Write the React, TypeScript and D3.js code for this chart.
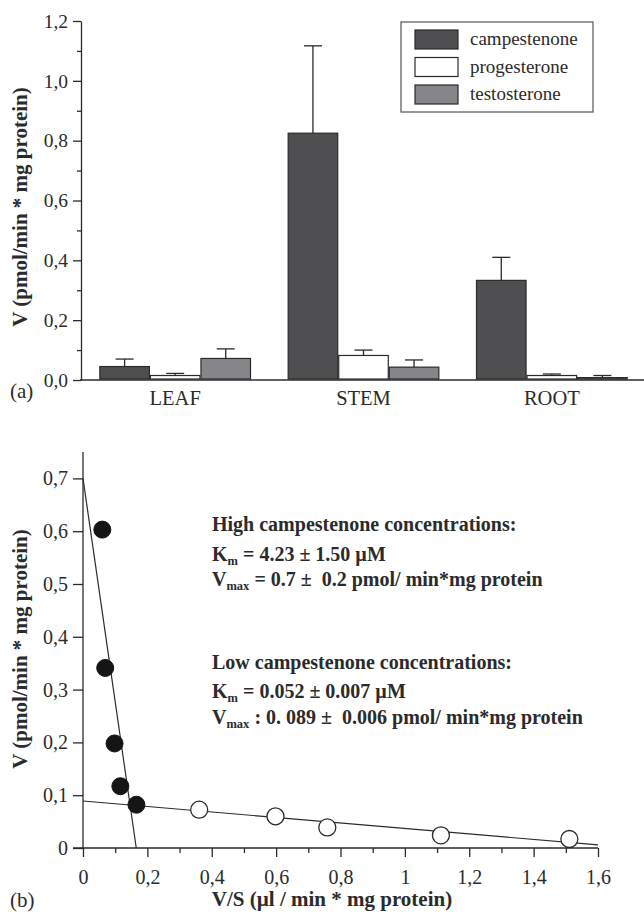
import { useEffect, useRef } from "react";
import * as d3 from "d3";

// panel (a): enzyme activity per organ
const organs = ["LEAF", "STEM", "ROOT"];
const substrates = ["campestenone", "progesterone", "testosterone"];
const campestenone = [0.045, 0.825, 0.333];
const progesterone = [0.015, 0.082, 0.015];
const testosterone = [0.072, 0.043, 0.008];
const campestenoneErr = [0.025, 0.292, 0.077];
const progesteroneErr = [0.007, 0.018, 0.005];
const testosteroneErr = [0.032, 0.024, 0.007];
const barTicks = [0, 0.2, 0.4, 0.6, 0.8, 1.0, 1.2];

// panel (b): Eadie-Hofstee plot
const highVS = [0.06, 0.069, 0.098, 0.116, 0.166];
const highV = [0.603, 0.341, 0.198, 0.117, 0.082];
const lowVS = [0.361, 0.598, 0.759, 1.112, 1.511];
const lowV = [0.0725, 0.06, 0.039, 0.024, 0.017];
const highFit = { vmax: 0.7, km: 4.23 };
const lowFit = { vmax: 0.089, km: 0.052 };
const plotYTicks = [0, 0.1, 0.2, 0.3, 0.4, 0.5, 0.6, 0.7];
const plotXTicks = [0, 0.2, 0.4, 0.6, 0.8, 1, 1.2, 1.4, 1.6];

const notes = [
  [["High campestenone concentrations:", ""]],
  [["K", "m"], [" = 4.23 ± 1.50 µM", ""]],
  [["V", "max"], [" = 0.7 ±  0.2 pmol/ min*mg protein", ""]],
  [["Low campestenone concentrations:", ""]],
  [["K", "m"], [" = 0.052 ± 0.007 µM", ""]],
  [["V", "max"], [" : 0. 089 ±  0.006 pmol/ min*mg protein", ""]],
];

const serif = "Liberation Serif, Times New Roman, serif";
const ink = "#2b2b2b";

export default function App() {
  const svgRef = useRef<SVGSVGElement>(null);

  useEffect(() => {
    if (!svgRef.current) return;
    const svg = d3.select(svgRef.current);
    svg.selectAll("*").remove();

    const comma = (d: number, digits?: number) =>
      (digits !== undefined ? d.toFixed(digits) : String(+d.toFixed(3))).replace(".", ",");

    // ---------- panel (a) ----------
    const x0 = d3.scaleBand().domain(organs).range([81, 646]).paddingInner(0.2).paddingOuter(0.1);
    const x1 = d3.scaleBand().domain(substrates).range([0, x0.bandwidth()]).paddingInner(0.02);
    const yA = d3.scaleLinear().domain([0, 1.2]).range([380, 21]);
    const color = d3.scaleOrdinal<string>().domain(substrates).range(["#4f4f52", "#ffffff", "#86868a"]);
    const values = [campestenone, progesterone, testosterone];
    const errs = [campestenoneErr, progesteroneErr, testosteroneErr];

    const gA = svg.append("g");

    const minorA = gA.append("g").attr("transform", "translate(81,0)")
      .call(d3.axisLeft(yA).tickValues([0.1, 0.3, 0.5, 0.7, 0.9, 1.1]).tickSize(4).tickFormat(() => ""));
    minorA.select(".domain").remove();
    const axA = gA.append("g").attr("transform", "translate(81,0)")
      .call(d3.axisLeft(yA).tickValues(barTicks).tickSize(8).tickSizeOuter(0).tickPadding(5)
        .tickFormat((d) => comma(+d, 1)));
    [minorA, axA].forEach((a) => {
      a.selectAll("line").attr("stroke", ink).attr("stroke-width", 1.3);
      a.selectAll("path").attr("stroke", ink).attr("stroke-width", 1.3);
      a.selectAll("text").style("font-family", serif).style("font-size", "19.5px").attr("fill", ink);
    });

    gA.append("line").attr("x1", 80).attr("x2", 644).attr("y1", yA(0)).attr("y2", yA(0))
      .attr("stroke", ink).attr("stroke-width", 1.5);

    substrates.forEach((s, si) => {
      organs.forEach((o, oi) => {
        const bx = (x0(o) ?? 0) + (x1(s) ?? 0);
        const bw = x1.bandwidth();
        const v = values[si][oi];
        const e = errs[si][oi];
        const cx = bx + bw / 2;
        gA.append("line").attr("x1", cx).attr("x2", cx).attr("y1", yA(v)).attr("y2", yA(v + e))
          .attr("stroke", ink).attr("stroke-width", 1.3);
        gA.append("line").attr("x1", cx - 9).attr("x2", cx + 9).attr("y1", yA(v + e)).attr("y2", yA(v + e))
          .attr("stroke", ink).attr("stroke-width", 1.3);
        gA.append("rect").attr("x", bx).attr("y", yA(v)).attr("width", bw).attr("height", yA(0) - yA(v) - 1)
          .attr("fill", color(s)).attr("stroke", ink).attr("stroke-width", 1.2);
      });
    });

    organs.forEach((o) => {
      gA.append("text").attr("x", (x0(o) ?? 0) + x0.bandwidth() / 2).attr("y", 405)
        .attr("text-anchor", "middle").style("font-family", serif).style("font-size", "20.5px")
        .attr("fill", ink).text(o);
    });

    gA.append("text").attr("transform", "translate(27,207) rotate(-90)").attr("text-anchor", "middle")
      .style("font-family", serif).style("font-weight", "bold").style("font-size", "21px").attr("fill", ink)
      .text("V (pmol/min * mg protein)");
    gA.append("text").attr("x", 10).attr("y", 398).style("font-family", serif).style("font-size", "21px")
      .attr("fill", ink).text("(a)");

    // legend
    const leg = gA.append("g");
    leg.append("rect").attr("x", 401).attr("y", 22).attr("width", 192).attr("height", 90)
      .attr("fill", "#fff").attr("stroke", "#555").attr("stroke-width", 1.2);
    substrates.forEach((s, i) => {
      leg.append("rect").attr("x", 415).attr("y", 30 + i * 27.5).attr("width", 43).attr("height", 19)
        .attr("fill", color(s)).attr("stroke", ink).attr("stroke-width", 1.2);
      leg.append("text").attr("x", 470).attr("y", 45 + i * 27.5).style("font-family", serif)
        .style("font-size", "19px").attr("fill", ink).text(s);
    });

    // ---------- panel (b) ----------
    const xB = d3.scaleLinear().domain([0, 1.6]).range([83, 598]);
    const yB = d3.scaleLinear().domain([0, 0.75]).range([848, 452]);
    const gB = svg.append("g");

    const minorB = gB.append("g").attr("transform", "translate(0,848)")
      .call(d3.axisBottom(xB).tickValues(d3.range(1, 16, 2).map((k) => k / 10)).tickSize(5).tickFormat(() => ""));
    minorB.select(".domain").remove();
    const axBx = gB.append("g").attr("transform", "translate(0,848)")
      .call(d3.axisBottom(xB).tickValues(plotXTicks).tickSize(9).tickSizeOuter(0).tickPadding(13)
        .tickFormat((d) => comma(+d)));
    const axBy = gB.append("g").attr("transform", "translate(83,0)")
      .call(d3.axisLeft(yB).tickValues(plotYTicks).tickSize(10).tickSizeOuter(0).tickPadding(5)
        .tickFormat((d) => comma(+d)));
    [minorB, axBx, axBy].forEach((a) => {
      a.selectAll("line").attr("stroke", ink).attr("stroke-width", 1.3);
      a.selectAll("path").attr("stroke", ink).attr("stroke-width", 1.3);
      a.selectAll("text").style("font-family", serif).style("font-size", "20px").attr("fill", ink);
    });
    axBy.select(".domain").attr("d", `M0,${yB(0.75)}V${yB(0)}`);
    axBx.select(".domain").attr("d", `M73,0H${xB(1.6)}`);

    const line = d3.line<[number, number]>().x((d) => xB(d[0])).y((d) => yB(d[1]));
    const highEnd = highFit.vmax / highFit.km;
    gB.append("path").attr("d", line([[0, highFit.vmax], [highEnd, 0]]))
      .attr("fill", "none").attr("stroke", ink).attr("stroke-width", 1.2);
    gB.append("path").attr("d", line([[0, lowFit.vmax], [1.6, lowFit.vmax - lowFit.km * 1.6]]))
      .attr("fill", "none").attr("stroke", ink).attr("stroke-width", 1.2);

    lowVS.forEach((vs, i) => {
      gB.append("circle").attr("cx", xB(vs)).attr("cy", yB(lowV[i])).attr("r", 8.5)
        .attr("fill", "#fff").attr("stroke", ink).attr("stroke-width", 1.3);
    });
    highVS.forEach((vs, i) => {
      gB.append("circle").attr("cx", xB(vs)).attr("cy", yB(highV[i])).attr("r", 8.5)
        .attr("fill", "#151515").attr("stroke", "#151515").attr("stroke-width", 1);
    });

    const noteY = [535, 560.5, 586, 673, 698, 723.5];
    notes.forEach((ln, i) => {
      const t = gB.append("text").attr("x", 212).attr("y", noteY[i]).style("font-family", serif)
        .style("font-weight", "bold").style("font-size", "20px").attr("fill", ink)
        .style("white-space", "pre");
      ln.forEach(([main, sub]) => {
        if (sub) {
          t.append("tspan").text(main);
          t.append("tspan").style("font-size", "12.5px").attr("dy", 4).text(sub);
        } else {
          t.append("tspan").attr("dy", t.selectAll("tspan").size() ? -4 : 0).text(main);
        }
      });
    });

    gB.append("text").attr("x", 332).attr("y", 906).attr("text-anchor", "middle").style("font-family", serif)
      .style("font-weight", "bold").style("font-size", "21px").attr("fill", ink).text("V/S (µl / min * mg protein)");
    gB.append("text").attr("transform", "translate(27,649) rotate(-90)").attr("text-anchor", "middle")
      .style("font-family", serif).style("font-weight", "bold").style("font-size", "21px").attr("fill", ink)
      .text("V (pmol/min * mg protein)");
    gB.append("text").attr("x", 10).attr("y", 907).style("font-family", serif).style("font-size", "21px")
      .attr("fill", ink).text("(b)");
  }, []);

  return (
    <svg ref={svgRef} width={644} height={914}
      style={{ position: "absolute", left: 0, top: 0, background: "#fff" }} />
  );
}
